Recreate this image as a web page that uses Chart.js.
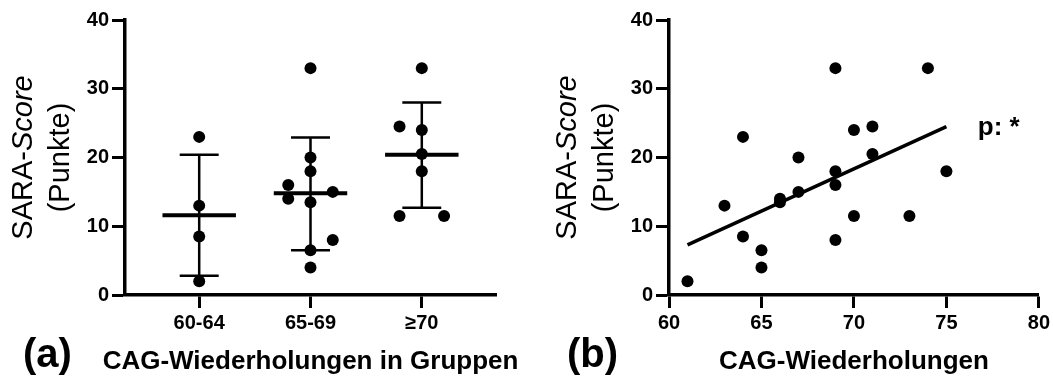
<!DOCTYPE html>
<html lang="de">
<head>
<meta charset="UTF-8">
<title>SARA-Score und CAG-Wiederholungen</title>
<script src="https://cdn.jsdelivr.net/npm/chart.js"></script>
<style>
  body { margin: 0; background: #fff; }
  .panel { position: absolute; top: 0; }
</style>
</head>
<body>
<canvas id="chartA" class="panel" style="left:0" width="527" height="376"></canvas>
<canvas id="chartB" class="panel" style="left:527px" width="526" height="376"></canvas>
<script>
// (a) SARA-Score per CAG group
const groupLabels = ['60-64', '65-69', '≥70'];
const group1 = [23, 13, 8.5, 2];
const group2 = [33, 20, 18, 16, 15, 14, 13.5, 8, 6.5, 4];
const group3 = [33, 24.5, 24, 20.5, 18, 11.5, 11.5];
// column of each dot inside its group (-1 left, 0 middle, 1 right)
const jitter1 = [0, 0, 0, 0];
const jitter2 = [0, 0, 0, -1, 1, -1, 0, 1, 0, 0];
const jitter3 = [0, -1, 0, 0, 0, -1, 1];
const groupMeans = [11.6, 14.8, 20.4];
const sdUpper = [20.4, 22.9, 28.0];
const sdLower = [2.8, 6.5, 12.7];

// (b) single patients
const cagRepeats = [61, 63, 64, 64, 65, 65, 66, 66, 67, 67, 69, 69, 69, 69, 70, 70, 71, 71, 73, 74, 75];
const saraScores = [2, 13, 23, 8.5, 6.5, 4, 14, 13.5, 20, 15, 33, 18, 16, 8, 24, 11.5, 24.5, 20.5, 11.5, 33, 18];
const fitX = [61, 75];
const fitY = [7.3, 24.5];

const yTicks = [0, 10, 20, 30, 40];
const xTicksA = [1, 2, 3];
const xTicksB = [60, 65, 70, 75, 80];

const FONT = 'Liberation Sans';

function axis(min, max, ticks, label) {
  return {
    type: 'linear', min: min, max: max,
    afterBuildTicks: s => { s.ticks = ticks.map(v => ({ value: v })); },
    grid: { display: true, drawOnChartArea: false, drawTicks: true, tickLength: 13, tickWidth: 3, tickColor: '#000' },
    border: { display: true, color: '#000', width: 3.5 },
    ticks: {
      color: '#000', padding: 3,
      font: { family: FONT, size: 20, weight: 'bold' },
      callback: label || (v => v)
    }
  };
}

function drawTexts(chart, xTitle, panel) {
  const { ctx, chartArea } = chart;
  const cy = (chartArea.top + chartArea.bottom) / 2;
  ctx.save();
  ctx.fillStyle = '#000';
  ctx.translate(chartArea.left - 93, cy);
  ctx.rotate(-Math.PI / 2);
  const reg = '29px "' + FONT + '"';
  const ita = 'italic 29px "' + FONT + '"';
  ctx.textBaseline = 'alphabetic';
  ctx.font = reg;
  const w1 = ctx.measureText('SARA-').width;
  ctx.font = ita;
  const w2 = ctx.measureText('Score').width;
  ctx.textAlign = 'left';
  ctx.font = reg;
  ctx.fillText('SARA-', -(w1 + w2) / 2, 0);
  ctx.font = ita;
  ctx.fillText('Score', -(w1 + w2) / 2 + w1, 0);
  ctx.textAlign = 'center';
  ctx.font = reg;
  ctx.fillText('(Punkte)', 0, 37);
  ctx.restore();

  ctx.save();
  ctx.fillStyle = '#000';
  ctx.textBaseline = 'alphabetic';
  ctx.textAlign = 'center';
  ctx.font = 'bold 26px "' + FONT + '"';
  ctx.fillText(xTitle, (chartArea.left + chartArea.right) / 2, 369);
  ctx.textAlign = 'left';
  ctx.font = 'bold 40px "' + FONT + '"';
  ctx.fillText(panel, chartArea.left - 102, 367);
  ctx.restore();
}

// mean line and SD whiskers for panel (a)
const meanSdPlugin = {
  id: 'meanSd',
  beforeDatasetsDraw(chart) {
    const { ctx, scales: { x, y } } = chart;
    ctx.save();
    ctx.strokeStyle = '#000';
    groupMeans.forEach((m, i) => {
      const c = xTicksA[i];
      ctx.lineWidth = 4;
      ctx.beginPath();
      ctx.moveTo(x.getPixelForValue(c - 0.33), y.getPixelForValue(m));
      ctx.lineTo(x.getPixelForValue(c + 0.33), y.getPixelForValue(m));
      ctx.stroke();
      ctx.lineWidth = 2.5;
      ctx.beginPath();
      ctx.moveTo(x.getPixelForValue(c), y.getPixelForValue(sdUpper[i]));
      ctx.lineTo(x.getPixelForValue(c), y.getPixelForValue(sdLower[i]));
      [sdUpper[i], sdLower[i]].forEach(v => {
        ctx.moveTo(x.getPixelForValue(c - 0.175), y.getPixelForValue(v));
        ctx.lineTo(x.getPixelForValue(c + 0.175), y.getPixelForValue(v));
      });
      ctx.stroke();
    });
    ctx.restore();
  },
  afterDraw(chart) { drawTexts(chart, 'CAG-Wiederholungen in Gruppen', '(a)'); }
};

const textPluginB = {
  id: 'textsB',
  afterDraw(chart) {
    drawTexts(chart, 'CAG-Wiederholungen', '(b)');
    const { ctx, scales: { x, y } } = chart;
    ctx.save();
    ctx.fillStyle = '#000';
    ctx.font = 'bold 26px "' + FONT + '"';
    ctx.textAlign = 'left';
    ctx.textBaseline = 'alphabetic';
    ctx.fillText('p: *', x.getPixelForValue(76.7), y.getPixelForValue(23.3));
    ctx.restore();
  }
};

function groupPoints(values, jitter, c) {
  return values.map((v, i) => ({ x: c + jitter[i] * 0.2, y: v }));
}

const dot = { pointRadius: 6, pointHoverRadius: 6, backgroundColor: '#000', borderWidth: 0 };

new Chart(document.getElementById('chartA'), {
  type: 'scatter',
  data: {
    datasets: [
      { data: groupPoints(group1, jitter1, xTicksA[0]), ...dot },
      { data: groupPoints(group2, jitter2, xTicksA[1]), ...dot },
      { data: groupPoints(group3, jitter3, xTicksA[2]), ...dot }
    ]
  },
  options: {
    responsive: false,
    animation: false,
    layout: { padding: { top: 20, right: 31, left: 0, bottom: 0 } },
    plugins: { legend: { display: false }, tooltip: { enabled: false } },
    scales: {
      x: { ...axis(1 / 3, 11 / 3, xTicksA, v => groupLabels[xTicksA.indexOf(v)]), afterFit: s => { s.height = 81; } },
      y: { ...axis(0, 40, yTicks), afterFit: s => { s.width = 125; } }
    }
  },
  plugins: [meanSdPlugin]
});

new Chart(document.getElementById('chartB'), {
  type: 'scatter',
  data: {
    datasets: [
      { data: cagRepeats.map((v, i) => ({ x: v, y: saraScores[i] })), ...dot },
      { type: 'line', data: fitX.map((v, i) => ({ x: v, y: fitY[i] })), borderColor: '#000', borderWidth: 3.5, pointRadius: 0, fill: false }
    ]
  },
  options: {
    responsive: false,
    animation: false,
    layout: { padding: { top: 20, right: 14, left: 0, bottom: 0 } },
    plugins: { legend: { display: false }, tooltip: { enabled: false } },
    scales: {
      x: { ...axis(60, 80, xTicksB), afterFit: s => { s.height = 81; } },
      y: { ...axis(0, 40, yTicks), afterFit: s => { s.width = 142; } }
    }
  },
  plugins: [textPluginB]
});
</script>
</body>
</html>
